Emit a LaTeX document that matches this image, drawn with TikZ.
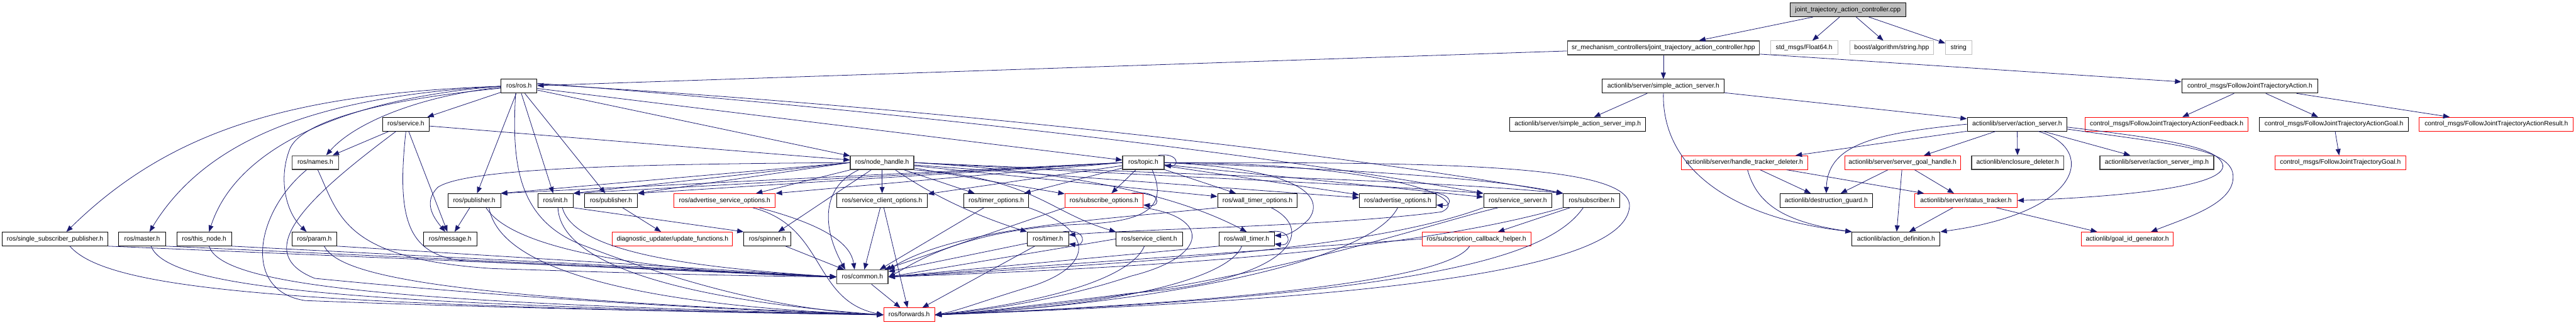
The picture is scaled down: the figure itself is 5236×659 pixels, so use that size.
\documentclass[tikz,border=0pt]{standalone}
\usepackage{fontspec}
\setmainfont{Liberation Sans}
\usetikzlibrary{arrows.meta}
\definecolor{ec}{HTML}{191970}
\definecolor{lg}{HTML}{BFBFBF}
\newcommand\mknode[6]{\node[#5,minimum width=#4pt] (#1) at (#2,-#3) {#6};}
\begin{document}
\begin{tikzpicture}[x=1pt,y=1pt,
  nbox/.style={draw=black,line width=1.2pt,minimum height=28pt,inner sep=0pt,font=\fontsize{13.2}{15}\selectfont,text height=9.6pt,text depth=2.8pt},
  rbox/.style={nbox,draw=red},
  gbox/.style={nbox,draw=lg},
  dbox/.style={nbox,draw=black!75,line width=1.8pt},
  ed/.style={draw=ec,line width=1pt,-{Triangle[length=13pt,width=10pt]}},
]
\useasboundingbox (0,0) rectangle (5236,-659);
% nodes
\mknode{cpp}{3756}{20}{235}{nbox,fill=lg}{joint\_trajectory\_action\_controller.cpp}
\mknode{hpp}{3381}{97}{390}{dbox}{sr\_mechanism\_controllers/joint\_trajectory\_action\_controller.hpp}
\mknode{f64}{3667}{97}{137}{gbox}{std\_msgs/Float64.h}
\mknode{boost}{3845}{97}{171}{gbox}{boost/algorithm/string.hpp}
\mknode{str}{3981}{97}{53}{gbox}{string}
\mknode{ros}{1055}{175}{73}{nbox}{ros/ros.h}
\mknode{sas}{3381}{175}{248}{nbox}{actionlib/server/simple\_action\_server.h}
\mknode{fjta}{4573}{175}{277}{nbox}{control\_msgs/FollowJointTrajectoryAction.h}
\mknode{service}{825}{252}{94}{nbox}{ros/service.h}
\mknode{sasimp}{3207}{252}{276}{nbox}{actionlib/server/simple\_action\_server\_imp.h}
\mknode{asrv}{4100}{252}{203}{nbox}{actionlib/server/action\_server.h}
\mknode{fb}{4404}{252}{331}{rbox}{control\_msgs/FollowJointTrajectoryActionFeedback.h}
\mknode{ag}{4744}{252}{303}{nbox}{control\_msgs/FollowJointTrajectoryActionGoal.h}
\mknode{res}{5074}{252}{313}{rbox}{control\_msgs/FollowJointTrajectoryActionResult.h}
\mknode{names}{641}{330}{94}{dbox}{ros/names.h}
\mknode{nh}{1793}{330}{129}{dbox}{ros/node\_handle.h}
\mknode{topic}{2324}{330}{84}{dbox}{ros/topic.h}
\mknode{htd}{3546}{330}{256}{rbox}{actionlib/server/handle\_tracker\_deleter.h}
\mknode{sgh}{3867}{330}{235}{rbox}{actionlib/server/server\_goal\_handle.h}
\mknode{encl}{4101}{330}{187}{dbox}{actionlib/enclosure\_deleter.h}
\mknode{asimp}{4384}{330}{231}{dbox}{actionlib/server/action\_server\_imp.h}
\mknode{fjtg}{4757}{330}{266}{rbox}{control\_msgs/FollowJointTrajectoryGoal.h}
\mknode{pubA}{964}{407}{107}{nbox}{ros/publisher.h}
\mknode{init}{1129}{407}{72}{nbox}{ros/init.h}
\mknode{pubB}{1242}{407}{107}{nbox}{ros/publisher.h}
\mknode{aso}{1473}{407}{206}{rbox}{ros/advertise\_service\_options.h}
\mknode{sco}{1793}{407}{184}{nbox}{ros/service\_client\_options.h}
\mknode{tmo}{2025}{407}{131}{nbox}{ros/timer\_options.h}
\mknode{sbo}{2244}{407}{159}{rbox}{ros/subscribe\_options.h}
\mknode{wto}{2556}{407}{162}{nbox}{ros/wall\_timer\_options.h}
\mknode{ado}{2841}{407}{156}{nbox}{ros/advertise\_options.h}
\mknode{ssv}{3085}{407}{139}{nbox}{ros/service\_server.h}
\mknode{sub}{3235}{407}{115}{nbox}{ros/subscriber.h}
\mknode{dg}{3712}{407}{187}{nbox}{actionlib/destruction\_guard.h}
\mknode{st}{3996}{407}{208}{rbox}{actionlib/server/status\_tracker.h}
\mknode{ssp}{112}{485}{215}{nbox}{ros/single\_subscriber\_publisher.h}
\mknode{master}{289}{485}{95}{nbox}{ros/master.h}
\mknode{thisn}{415}{485}{111}{nbox}{ros/this\_node.h}
\mknode{param}{639}{485}{91}{nbox}{ros/param.h}
\mknode{msg}{915}{485}{108}{nbox}{ros/message.h}
\mknode{upd}{1367}{485}{244}{rbox}{diagnostic\_updater/update\_functions.h}
\mknode{spin}{1560}{485}{96}{nbox}{ros/spinner.h}
\mknode{timer}{2130}{485}{84}{nbox}{ros/timer.h}
\mknode{scl}{2336}{485}{135}{nbox}{ros/service\_client.h}
\mknode{wtimer}{2534}{485}{112}{nbox}{ros/wall\_timer.h}
\mknode{sch}{3001}{485}{221}{rbox}{ros/subscription\_callback\_helper.h}
\mknode{adef}{3854}{485}{179}{nbox}{actionlib/action\_definition.h}
\mknode{gid}{4324}{485}{186}{rbox}{actionlib/goal\_id\_generator.h}
\mknode{common}{1753}{562}{104}{dbox}{ros/common.h}
\mknode{fwd}{1848}{639}{104}{rbox}{ros/forwards.h}

% top
\draw[ed] (cpp) -- (hpp);
\draw[ed] (cpp) -- (f64);
\draw[ed] (cpp) -- (boost);
\draw[ed] (cpp) -- (str);
\draw[ed] (hpp) -- (ros);
\draw[ed] (hpp) -- (sas);
\draw[ed] (hpp) -- (fjta);
\draw[ed] (sas) -- (sasimp);
\draw[ed] (sas) -- (asrv);
\draw[ed] (sas.south) .. controls (3378,-330) and (3500,-440) .. (adef.north west);
% action server
\draw[ed] (asrv) -- (htd);
\draw[ed] (asrv.west) .. controls (3820,-270) and (3715,-290) .. (dg.north);
\draw[ed] (asrv) -- (sgh);
\draw[ed] (asrv) -- (encl);
\draw[ed] (asrv) -- (asimp);
\draw[ed] ([xshift=43pt]asrv.south) .. controls (4260,-300) and (4240,-430) .. (adef.north east);
\draw[ed] ([yshift=-6pt]asrv.east) .. controls (4400,-282) and (4510,-298) .. (4518,-335) .. controls (4525,-380) and (4300,-400) .. (st.east);
\draw[ed] ([yshift=-10pt]asrv.east) .. controls (4410,-292) and (4525,-300) .. (4538,-350) .. controls (4550,-410) and (4450,-440) .. ([xshift=48pt]gid.north);
\draw[ed] (htd) -- (dg);
\draw[ed] (htd) -- (st);
\draw[ed] ([xshift=6pt]htd.south) .. controls (3570,-410) and (3620,-450) .. (adef.north west);
\draw[ed] (sgh) -- (dg);
\draw[ed] (sgh) -- (adef);
\draw[ed] (sgh) -- (st);
\draw[ed] (st) -- (adef);
\draw[ed] (st) -- (gid);
\draw[ed] (fjta) -- (fb);
\draw[ed] (fjta) -- (ag);
\draw[ed] (fjta) -- (res);
\draw[ed] (ag) -- (fjtg);

% ros.h
\draw[ed] (ros.west) .. controls (600,-190) and (350,-260) .. ([xshift=23pt]ssp.north);
\draw[ed] (ros.west) .. controls (650,-195) and (420,-280) .. ([xshift=15pt]master.north);
\draw[ed] (ros.west) .. controls (700,-200) and (480,-300) .. ([xshift=10pt]thisn.north);
\draw[ed] ([yshift=-4pt]ros.west) .. controls (800,-200) and (620,-240) .. (590,-300) .. controls (565,-360) and (580,-430) .. ([xshift=-16pt]param.north);
\draw[ed] ([yshift=-2pt]ros.west) .. controls (850,-195) and (720,-250) .. ([xshift=22pt]names.north);
\draw[ed] (ros) -- (service);
\draw[ed] (ros) -- (nh);
\draw[ed] (ros) -- (pubA);
\draw[ed] (ros) -- (init);
\draw[ed] (ros) -- (pubB);
\draw[ed] (ros) -- (topic);
\draw[ed] ([yshift=4pt]ros.east) .. controls (1700,-205) and (2600,-290) .. (sub.north west);
\draw[ed] ([yshift=6pt]ros.east) .. controls (1700,-215) and (2500,-300) .. (ssv.north west);
\draw[ed] ([xshift=-7pt]ros.south) .. controls (1040,-330) and (1050,-450) .. (1191,-500) .. controls (1400,-580) and (1600,-630) .. (fwd.west);

% service / names
\draw[ed] (service) -- (names);
\draw[ed] (service) -- (nh);
\draw[ed] (service) -- (msg);
\draw[ed] (service.south) .. controls (805,-450) and (830,-520) .. (950,-530) .. controls (1300,-545) and (1500,-555) .. (common.west);
\draw[ed] ([xshift=-20pt]service.south) .. controls (640,-390) and (500,-510) .. (640,-565) .. controls (1100,-610) and (1500,-630) .. (fwd.west);
\draw[ed] ([xshift=-18pt]names.south) .. controls (520,-430) and (490,-590) .. (620,-610) .. controls (1000,-625) and (1500,-635) .. (fwd.west);
\draw[ed] ([xshift=5pt]names.south) .. controls (690,-440) and (700,-525) .. (1000,-545) .. controls (1300,-555) and (1500,-560) .. (common.west);

% left row
\draw[ed] (ssp.south east) -- (common.west);
\draw[ed] (master.south east) -- (common.west);
\draw[ed] (thisn.south east) -- (common.west);
\draw[ed] (param.south east) -- (common.west);
\draw[ed] ([xshift=30pt]ssp.south) .. controls (220,-590) and (600,-620) .. (fwd.west);
\draw[ed] ([xshift=18pt]master.south) .. controls (340,-585) and (700,-618) .. (fwd.west);
\draw[ed] ([xshift=10pt]thisn.south) .. controls (450,-580) and (800,-615) .. (fwd.west);
\draw[ed] ([xshift=20pt]param.south) .. controls (690,-560) and (900,-605) .. (fwd.west);

% publishers, init, options
\draw[ed] (pubA) -- (msg);
\draw[ed] ([xshift=24pt]pubA.south) .. controls (1050,-520) and (1400,-555) .. (common.west);
\draw[ed] ([xshift=30pt]pubA.south) .. controls (1020,-570) and (1400,-625) .. (fwd.west);
\draw[ed] (init.south east) -- (spin.north west);
\draw[ed] ([xshift=14pt]init.south) .. controls (1170,-520) and (1450,-545) .. (common.west);
\draw[ed] ([xshift=5pt]init.south) .. controls (1140,-540) and (1400,-610) .. (fwd.west);
\draw[ed] (pubB) -- (upd);
\draw[ed] ([xshift=70pt]aso.south) .. controls (1690,-460) and (1730,-500) .. ([xshift=-16pt]common.north);
\draw[ed] ([xshift=57pt]aso.south) .. controls (1680,-460) and (1650,-610) .. (fwd.west);
\draw[ed] (spin) -- (common);
\draw[ed] (sco) -- (common);
\draw[ed] (sco) -- (fwd);
\draw[ed] (common) -- (fwd);

% node_handle
\draw[ed] (nh.west) -- (pubA.north east);
\draw[ed] (nh.west) -- (init.north east);
\draw[ed] (nh.west) -- (pubB.north east);
\draw[ed] (nh.south west) -- ([xshift=-40pt]aso.north east);
\draw[ed] (nh) -- (sco);
\draw[ed] (nh) -- (tmo);
\draw[ed] (nh) -- (sbo);
\draw[ed] (nh) -- (wto);
\draw[ed] (nh) -- (ado);
\draw[ed] (nh.east) .. controls (2400,-360) and (2800,-375) .. (ssv.north west);
\draw[ed] (nh.east) .. controls (2400,-355) and (2900,-365) .. (sub.north west);
\draw[ed] ([xshift=27pt]nh.south) .. controls (1900,-400) and (1990,-440) .. (timer.north west);
\draw[ed] (nh.south east) .. controls (2100,-360) and (2130,-430) .. (scl.north west);
\draw[ed] (nh.east) .. controls (2200,-350) and (2400,-400) .. (wtimer.north);
\draw[ed] (nh) -- (spin);
\draw[ed] ([xshift=-48pt]nh.south) .. controls (1670,-380) and (1670,-460) .. ([xshift=-35pt]common.north);
\draw[ed] (nh.west) .. controls (1300,-333) and (950,-340) .. (890,-380) .. controls (860,-410) and (880,-440) .. ([xshift=-10pt]msg.north);

% topic
\draw[ed] ([xshift=-12pt]topic.north east) .. controls +(40,6) and +(32,-2) .. ([yshift=-6pt]topic.east);
\draw[ed] (topic.west) -- (pubA.north east);
\draw[ed] (topic.west) -- (init.north east);
\draw[ed] (topic.west) -- (pubB.north east);
\draw[ed] (topic.west) -- (aso.north east);
\draw[ed] (topic) -- (sco);
\draw[ed] (topic) -- (tmo);
\draw[ed] (topic) -- (sbo);
\draw[ed] (topic) -- (wto);
\draw[ed] (topic) -- (ado);
\draw[ed] (topic) -- (ssv);
\draw[ed] (topic.east) .. controls (2800,-345) and (3050,-365) .. (sub.north west);
\draw[ed] ([xshift=18pt]topic.south) .. controls (2375,-420) and (2330,-450) .. (2200,-455) .. controls (1950,-465) and (1850,-540) .. (common.east);
\draw[ed] (topic.east) .. controls (2900,-330) and (3320,-330) .. (3312,-420) .. controls (3300,-560) and (2700,-610) .. (fwd.east);
\draw[ed] (topic.east) .. controls (2800,-330) and (3000,-400) .. (2930,-430) .. controls (2700,-460) and (2300,-465) .. ([yshift=8pt]timer.east);
\draw[ed] (topic.east) .. controls (2700,-345) and (2680,-420) .. (2660,-445) .. controls (2640,-465) and (2620,-478) .. ([yshift=7pt]wtimer.east);

% self loops
\draw[ed] ([xshift=-24pt]sbo.north east) .. controls +(58,8) and +(38,-4) .. ([yshift=-9pt]sbo.east);
\draw[ed] ([xshift=-29pt]ado.north east) .. controls +(62,8) and +(37,-4) .. ([yshift=-9pt]ado.east);
\draw[ed] ([xshift=-12pt]timer.north east) .. controls +(48,8) and +(36,-5) .. ([yshift=-10pt]timer.east);
\draw[ed] ([xshift=-12pt]wtimer.north east) .. controls +(48,8) and +(36,-5) .. ([yshift=-10pt]wtimer.east);

% options / timers / servers to common and forwards
\draw[ed] ([xshift=-25pt]tmo.south) -- ([xshift=35pt]common.north);
\draw[ed] (tmo.south east) .. controls (2230,-470) and (2220,-540) .. (2100,-580) .. controls (2000,-610) and (1950,-630) .. (fwd.east);
\draw[ed] (sbo.south west) -- ([xshift=45pt]common.north);
\draw[ed] (sbo.south east) .. controls (2460,-440) and (2460,-520) .. (2300,-560) .. controls (2150,-610) and (2000,-630) .. (fwd.east);
\draw[ed] (wto.south west) .. controls (2250,-445) and (1950,-460) .. (common.north east);
\draw[ed] ([xshift=28pt]wto.south) .. controls (2680,-470) and (2620,-570) .. (2300,-595) .. controls (2100,-620) and (1980,-635) .. (fwd.east);
\draw[ed] (ado.south) .. controls (2780,-540) and (2300,-620) .. (fwd.east);
\draw[ed] (ssv.south west) .. controls (2800,-500) and (2400,-530) .. (common.east);
\draw[ed] ([xshift=-40pt]ssv.south) .. controls (2880,-460) and (2500,-600) .. (fwd.east);
\draw[ed] (sub) -- (sch);
\draw[ed] (sub.south west) .. controls (2900,-500) and (2450,-540) .. (common.east);
\draw[ed] ([xshift=-17pt]sub.south) .. controls (3150,-520) and (2900,-600) .. (fwd.east);
\draw[ed] (sch.west) -- (common.east);
\draw[ed] ([xshift=-14pt]sch.south) .. controls (2950,-560) and (2600,-610) .. (fwd.east);
\draw[ed] (timer) -- (common);
\draw[ed] (timer) -- (fwd);
\draw[ed] (scl.west) -- (common.east);
\draw[ed] ([xshift=-10pt]scl.south) .. controls (2300,-560) and (2150,-610) .. (fwd.east);
\draw[ed] (wtimer.south west) -- (common.east);
\draw[ed] ([xshift=-10pt]wtimer.south) .. controls (2500,-560) and (2300,-620) .. (fwd.east);
\end{tikzpicture}
\end{document}
